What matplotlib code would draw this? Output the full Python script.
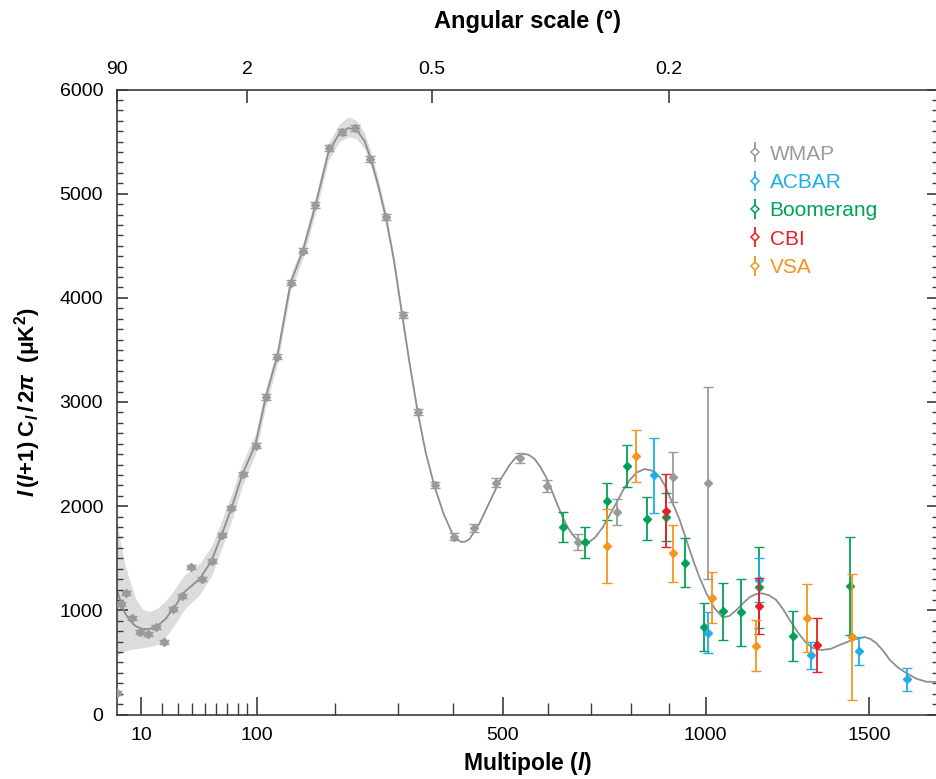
import numpy as np
import matplotlib
matplotlib.use("Agg")
import matplotlib.pyplot as plt
from matplotlib.lines import Line2D
from matplotlib.legend_handler import HandlerTuple
from matplotlib.ticker import NullLocator

plt.rcParams['font.family'] = ['Liberation Sans', 'DejaVu Sans']
plt.rcParams['mathtext.fontset'] = 'custom'
plt.rcParams['mathtext.rm'] = 'Liberation Sans'
plt.rcParams['mathtext.it'] = 'Liberation Sans:italic'
plt.rcParams['mathtext.bf'] = 'Liberation Sans:bold'
try:
    plt.rcParams['mathtext.bfit'] = 'Liberation Sans:bold:italic'
except Exception:
    pass

# ---------------- data ----------------
theory_l = [2, 2.8, 3.9, 5.45, 7.6, 10.4, 13.6, 17.7, 22.2, 27.8, 34.5, 45.8, 55.7, 64.6, 73.9,
            84.9, 98.6, 109.7, 123.6, 139.5, 155.2, 172.2, 190.3, 206.2, 219.6, 231.8, 244.3,
            253.8, 265.1, 278.2, 291.6, 305.3, 319.2, 333.4, 347.9, 364.6, 381.5, 396.6, 405,
            415.4, 423, 431.8, 451.9, 472.4, 493.1, 514.3, 528, 541.7, 555, 568.8, 582, 595.6,
            608, 620.9, 632, 644, 656, 667.7, 680, 692.4, 710, 729.3, 746, 762.5, 779, 796.3,
            815, 835, 855, 874.6, 888, 901.3, 915, 928.3, 946, 965, 983, 1002, 1025, 1048, 1067,
            1088, 1108, 1127, 1145, 1162, 1184, 1206, 1227, 1247, 1273, 1299, 1322, 1346, 1375,
            1404, 1445, 1486, 1505, 1525, 1548, 1570, 1598, 1627, 1660, 1694, 1736]
theory_D = [1195, 1090, 984, 907, 850, 821, 821, 850, 917, 1032, 1176, 1301, 1474, 1723, 1982,
            2309, 2597, 3038, 3451, 4142, 4450, 4891, 5400, 5582, 5630, 5611, 5506, 5342, 5102,
            4786, 4382, 3874, 3374, 2914, 2520, 2184, 1925, 1752, 1690, 1656, 1660, 1685, 1838,
            2040, 2242, 2395, 2470, 2501, 2495, 2453, 2375, 2270, 2145, 2011, 1900, 1800, 1725,
            1675, 1648, 1646, 1700, 1800, 1915, 2030, 2150, 2251, 2325, 2357, 2340, 2280, 2200,
            2088, 1980, 1867, 1680, 1483, 1315, 1164, 1020, 933, 945, 1003, 1070, 1128, 1155,
            1164, 1145, 1099, 1010, 907, 785, 684, 635, 619, 630, 667, 715, 744, 725, 684, 610,
            523, 450, 396, 345, 315, 312]

band_l = [2, 2.8, 3.9, 5.45, 7.6, 10.4, 13.6, 17.7, 22.2, 27.8, 34.5, 45.8, 55.7, 64.6, 73.9,
          84.9, 98.6, 109.7, 123.6, 139.5, 155.2, 172.2, 190.3, 206.2, 219.6, 231.8, 244.3,
          253.8, 265.1, 278.2, 291.6, 305.3, 319.2, 333.4, 347.9, 364.6]
band_lo = [560, 590, 608, 620, 632, 642, 650, 672, 740, 860, 1010, 1150, 1330, 1590, 1860,
           2200, 2500, 2950, 3370, 4065, 4375, 4815, 5320, 5500, 5545, 5530, 5430, 5270, 5035,
           4725, 4330, 3830, 3340, 2890, 2505, 2178]
band_hi = [1870, 1660, 1460, 1290, 1120, 1010, 990, 1020, 1090, 1200, 1340, 1450, 1615, 1860,
           2110, 2420, 2695, 3125, 3530, 4220, 4525, 4970, 5485, 5670, 5740, 5700, 5585, 5415,
           5170, 4845, 4435, 3918, 3408, 2938, 2535, 2190]

wmap_l = [2, 3, 4.4, 6.4, 9.2, 12.8, 17, 21.6, 26.7, 32.9, 39.4, 47.9, 55.9, 64.8, 73.9, 84.9,
          98.6, 110, 123, 140, 155, 172, 191, 210, 230, 253, 279, 307, 334, 366, 401, 441, 485,
          536, 596, 668, 765, 909, 1008]
wmap_D = [206, 1061, 1169, 924, 789, 770, 843, 696, 1013, 1138, 1419, 1304, 1474, 1723, 1982,
          2309, 2578, 3048, 3435, 4145, 4452, 4891, 5436, 5595, 5628, 5330, 4773, 3835, 2907,
          2203, 1707, 1793, 2225, 2460, 2194, 1656, 1944, 2280, 2222]
wmap_err = [20] * 14 + [22, 22, 24, 25, 25, 26, 26, 27, 28, 28, 28, 28, 28, 30, 30, 30, 32, 38,
                        42, 50, 60, 80, 125, 240, 920]

acbar_l = [859, 1008, 1155, 1312, 1466, 1627]
acbar_D = [2296, 785, 1291, 568, 612, 338]
acbar_err = [357, 198, 211, 130, 136, 112]

boom_l = [633, 686, 738, 789, 840, 892, 944, 995, 1048, 1100, 1153, 1257, 1437]
boom_D = [1797, 1653, 2047, 2383, 1880, 1899, 1457, 843, 991, 981, 1221, 757, 1237]
boom_err = [143, 146, 175, 202, 208, 230, 233, 232, 275, 323, 387, 240, 469]

cbi_l = [892, 1153, 1333]
cbi_D = [1957, 1042, 667]
cbi_err = [349, 267, 262]

vsa_l = [739, 812, 911, 1017, 1144, 1301, 1444]
vsa_D = [1618, 2482, 1547, 1121, 661, 926, 741]
vsa_err = [358, 246, 275, 246, 248, 330, 605]

x_major = [10, 100, 500, 1000, 1500]
x_minor = [20, 30, 40, 50, 60, 70, 80, 90, 200, 300, 400, 600, 700, 800, 900]
top_l = [2, 90, 360, 900]
top_labels = ['90', '2', '0.5', '0.2']

# ---------------- style ----------------
c_wmap = '#9a9a9a'
c_acbar = '#1eaeea'
c_boom = '#00a356'
c_cbi = '#ec1c24'
c_vsa = '#f7941d'
c_axis = '#3c3c3c'

fig = plt.figure(figsize=(9.36, 7.79), dpi=100)
ax = fig.add_axes([117 / 936, 1 - 714.5 / 779, 821 / 936, 625 / 779])

def fwd(l):
    return np.power(np.clip(l, 1e-9, None), 0.59)

def inv(u):
    return np.power(np.clip(u, 1e-9, None), 1 / 0.59)

ax.set_xscale('function', functions=(fwd, inv))
ax.set_xlim(2, 1736)
ax.set_ylim(0, 6000)

ax.fill_between(band_l, band_lo, band_hi, color='#dcdcdc', lw=0, zorder=1)
ax.plot(theory_l, theory_D, color='#8e8e8e', lw=1.3, zorder=2)

def eb(l, d, e, c, z):
    return ax.errorbar(l, d, yerr=e, fmt='D', ms=3.6, color=c, mfc=c, mec=c, mew=1.0,
                       ecolor=c, elinewidth=1.3, capsize=3.6, capthick=1.3, zorder=z)

eb(wmap_l, wmap_D, wmap_err, c_wmap, 3)
eb(boom_l, boom_D, boom_err, c_boom, 4)
eb(acbar_l, acbar_D, acbar_err, c_acbar, 5)
eb(cbi_l, cbi_D, cbi_err, c_cbi, 6)
eb(vsa_l, vsa_D, vsa_err, c_vsa, 7)

# axes styling
for s in ax.spines.values():
    s.set_color(c_axis)
    s.set_linewidth(1.2)

ax.set_xticks(x_major)
ax.set_xticklabels([str(v) for v in x_major])
ax.set_xticks(x_minor, minor=True)
ax.set_yticks(np.arange(0, 6001, 1000))
ax.set_yticks(np.arange(0, 6001, 100), minor=True)

ax.tick_params(axis='x', which='major', direction='in', length=13, width=1.2, color=c_axis,
               labelsize=14, pad=9, top=False)
ax.tick_params(axis='x', which='minor', direction='in', length=9, width=1.0, color=c_axis,
               top=False)
ax.tick_params(axis='y', which='major', direction='in', length=8, width=1.2, color=c_axis,
               labelsize=14, pad=10, right=True)
ax.tick_params(axis='y', which='minor', direction='in', length=4.5, width=1.0, color=c_axis,
               right=True)

ax.set_xlabel(r'Multipole ($\mathbfit{l}$)', fontsize=16.5, fontweight='bold', labelpad=4)
ax.set_ylabel(r'$\mathbfit{l}\,\mathbf{(}\mathbfit{l}\mathbf{+1)\;C}_{\mathbfit{l}}\,\mathbf{/\,2}\mathbfit{\pi}$  (μK$^\mathbf{2}$)',
              fontsize=16, fontweight='bold', labelpad=12)

# top angular-scale axis
ax2 = ax.twiny()
ax2.set_xscale('function', functions=(fwd, inv))
ax2.set_xlim(ax.get_xlim())
ax2.set_xticks(top_l)
ax2.set_xticklabels(top_labels)
ax2.xaxis.set_minor_locator(NullLocator())
ax2.tick_params(axis='x', which='major', direction='in', length=9, width=1.2, color=c_axis,
                labelsize=14, pad=8)
ax2.set_xlabel('Angular scale (°)', fontsize=17, fontweight='bold', labelpad=24)
for s in ax2.spines.values():
    s.set_visible(False)

# legend
names = ['WMAP', 'ACBAR', 'Boomerang', 'CBI', 'VSA']
cols = [c_wmap, c_acbar, c_boom, c_cbi, c_vsa]
handles = []
for c in cols:
    vline = Line2D([], [], marker='|', ms=14, mew=1.3, color=c, ls='none')
    dia = Line2D([], [], marker='D', ms=4.2, mfc='white', mec=c, mew=1.1, ls='none')
    handles.append((vline, dia))
leg = ax.legend(handles, names, handler_map={tuple: HandlerTuple(ndivide=1)},
                loc='upper left', bbox_to_anchor=(0.772, 0.912), frameon=False,
                fontsize=15, handlelength=0.45, handletextpad=0.45, labelspacing=0.45,
                borderpad=0, borderaxespad=0, labelcolor=cols)

fig.savefig('out.png', dpi=100)
